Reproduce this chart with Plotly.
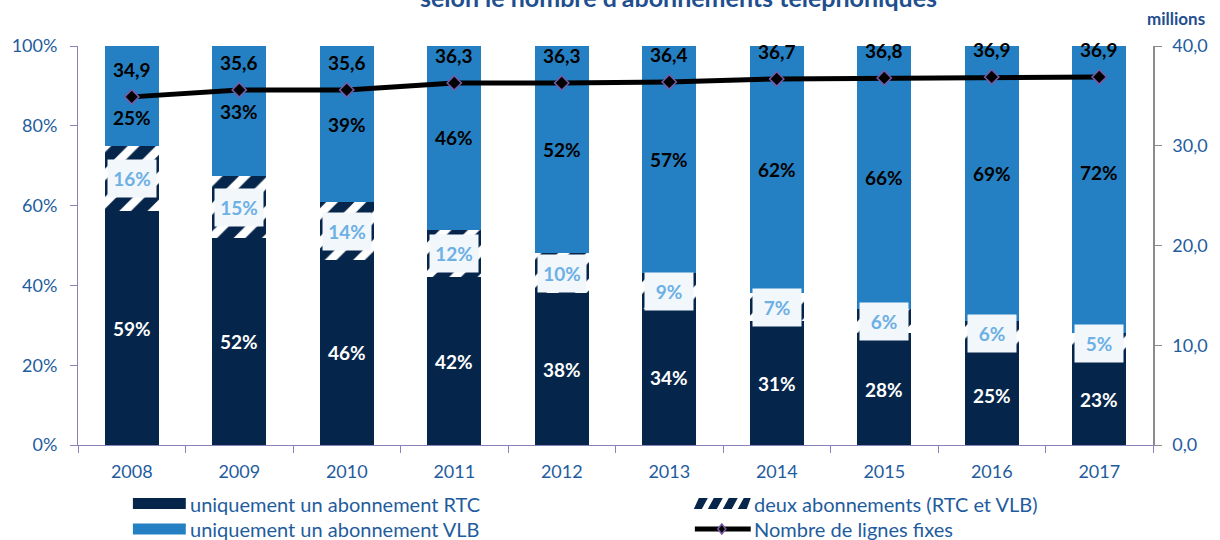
import plotly.graph_objects as go

years = ["2008", "2009", "2010", "2011", "2012", "2013", "2014", "2015", "2016", "2017"]
rtc_only = [58.6, 51.9, 46.4, 42, 38, 34, 31, 28, 25, 23]
both = [16.3, 15.4, 14.4, 12, 10, 9, 7, 6, 6, 5]
vlb_only = [25.1, 32.7, 39.2, 46, 52, 57, 62, 66, 69, 72]
lines_fixes = [34.9, 35.6, 35.6, 36.3, 36.3, 36.4, 36.7, 36.8, 36.9, 36.9]

pct_ticks = [0, 20, 40, 60, 80, 100]
mil_ticks = [0, 10, 20, 30, 40]

vlb_label_shift = [-21, 0, 0, 0, 0, 0, 0, 0, 10, 17]

NAVY = "#05254a"
BLUE = "#2580c3"
TXT = "#1f5c9e"
FONT = "Lato"

W, H = 1220, 540
L, R, T, B = 78, 1155, 46, 445


def px(x):
    return (x - L) / (R - L)


def py(y):
    return (B - y) / (B - T)


def fr(v):
    return f"{v:.1f}".replace(".", ",")


fig = go.Figure()
fig.add_trace(go.Bar(x=years, y=rtc_only, name="uniquement un abonnement RTC",
                     marker=dict(color=NAVY, line=dict(width=0))))
fig.add_trace(go.Bar(x=years, y=both, name="deux abonnements (RTC et VLB)",
                     marker=dict(color="white", line=dict(width=0),
                                 pattern=dict(shape="/", fgcolor=NAVY, bgcolor="white",
                                              fgopacity=1, size=20, solidity=0.58))))
fig.add_trace(go.Bar(x=years, y=vlb_only, name="uniquement un abonnement VLB",
                     marker=dict(color=BLUE, line=dict(width=0))))
fig.add_trace(go.Scatter(x=years, y=lines_fixes, yaxis="y2", mode="lines+markers",
                         name="Nombre de lignes fixes",
                         line=dict(color="black", width=5),
                         marker=dict(symbol="diamond", size=11, color="black",
                                     line=dict(color="#7a5aa8", width=1.5))))

LBL = 19
annotations = []
for i, yr in enumerate(years):
    r, b, v = rtc_only[i], both[i], vlb_only[i]
    annotations.append(dict(x=i, y=r / 2, xref="x", yref="y", text=f"<b>{round(r)}%</b>",
                            showarrow=False, font=dict(family=FONT, size=LBL, color="white")))
    annotations.append(dict(x=i, y=r + b / 2, xref="x", yref="y", text=f"<b>{round(b)}%</b>",
                            showarrow=False, font=dict(family=FONT, size=LBL, color="#6cb0e4"),
                            bgcolor="#f2f7fc", width=46, height=35))
    annotations.append(dict(x=i, y=r + b + v / 2, xref="x", yref="y", text=f"<b>{round(v)}%</b>",
                            showarrow=False, yshift=vlb_label_shift[i],
                            font=dict(family=FONT, size=LBL, color="black")))
    annotations.append(dict(x=i, y=lines_fixes[i], xref="x", yref="y2",
                            text="<b>" + fr(lines_fixes[i]) + "</b>",
                            showarrow=False, yshift=27,
                            font=dict(family=FONT, size=LBL, color="black")))

annotations.append(dict(x=px(680), y=py(-3), xref="paper", yref="paper", xanchor="center",
                        text="<b>selon le nombre d'abonnements téléphoniques</b>",
                        showarrow=False, yanchor="middle",
                        font=dict(family=FONT, size=25, color="#1f4f8f")))
annotations.append(dict(x=px(1178), y=py(18), xref="paper", yref="paper", xanchor="center",
                        yanchor="middle",
                        text="<b>millions</b>", showarrow=False,
                        font=dict(family=FONT, size=17, color="#1f4f8f")))

# custom legend
shapes = []
leg_font = dict(family=FONT, size=20, color=TXT)
rows = [503.5, 529]


def rect(x0, x1, yc, color):
    return dict(type="rect", xref="paper", yref="paper", x0=px(x0), x1=px(x1),
                y0=py(yc + 5.5), y1=py(yc - 5.5), fillcolor=color, line=dict(width=0))


def legend_text(x, yc, text):
    return dict(x=px(x), y=py(yc), xref="paper", yref="paper", xanchor="left",
                yanchor="middle", text=text, showarrow=False, font=leg_font)


shapes.append(rect(133, 186, rows[0], NAVY))
shapes.append(rect(133, 186, rows[1], BLUE))
annotations.append(legend_text(188, rows[0], "uniquement un abonnement RTC"))
annotations.append(legend_text(188, rows[1], "uniquement un abonnement VLB"))

# hatched swatch
for k in range(4):
    x0 = 694 + k * 15
    pts = [(x0, rows[0] + 5.5), (x0 + 9, rows[0] + 5.5), (x0 + 15, rows[0] - 5.5), (x0 + 6, rows[0] - 5.5)]
    pts = [(min(max(a, 695), 752), c) for a, c in pts]
    path = "M " + " L ".join(f"{px(a):.5f} {py(c):.5f}" for a, c in pts) + " Z"
    shapes.append(dict(type="path", xref="paper", yref="paper", path=path,
                       fillcolor=NAVY, line=dict(width=0)))
annotations.append(legend_text(753, rows[0], "deux abonnements (RTC et VLB)"))

# line swatch
shapes.append(dict(type="line", xref="paper", yref="paper", x0=px(696), x1=px(752),
                   y0=py(rows[1]), y1=py(rows[1]), line=dict(color="black", width=5)))
d = 5
cx = 723
dpts = [(cx, rows[1] - d), (cx + 4, rows[1]), (cx, rows[1] + d), (cx - 4, rows[1])]
shapes.append(dict(type="path", xref="paper", yref="paper",
                   path="M " + " L ".join(f"{px(a):.5f} {py(c):.5f}" for a, c in dpts) + " Z",
                   fillcolor="black", line=dict(color="#7a5aa8", width=1.5)))
annotations.append(legend_text(753, rows[1], "Nombre de lignes fixes"))

fig.update_layout(
    width=W, height=H,
    margin=dict(l=L, r=W - R, t=T, b=H - B),
    barmode="stack", bargap=0.5,
    plot_bgcolor="white", paper_bgcolor="white",
    showlegend=False,
    font=dict(family=FONT, size=18, color=TXT),
    xaxis=dict(type="category", categoryorder="array", categoryarray=years,
               range=[-0.5, len(years) - 0.5],
               showline=True, linecolor="#8a82b8", linewidth=1,
               ticks="outside", tickson="boundaries", ticklen=7, tickcolor="#8a82b8",
               tickangle=0, ticklabelstandoff=10,
               tickfont=dict(family=FONT, size=18, color=TXT), showgrid=False),
    yaxis=dict(range=[0, 100], tickmode="array", tickvals=pct_ticks,
               ticktext=[f"{t}%" for t in pct_ticks],
               showline=True, linecolor="#8a82b8", linewidth=1, ticks="outside",
               ticklen=7, tickcolor="#8a82b8", showgrid=False, zeroline=False,
               ticklabelstandoff=9,
               tickfont=dict(family=FONT, size=18, color=TXT)),
    yaxis2=dict(range=[0, 40], tickmode="array", tickvals=mil_ticks,
                ticktext=[fr(t) for t in mil_ticks],
                overlaying="y", side="right", showline=True, linecolor="#8c8c8c",
                linewidth=1.5, ticks="outside", ticklen=7, tickcolor="#8c8c8c",
                showgrid=False, zeroline=False, ticklabelstandoff=7,
                tickfont=dict(family=FONT, size=18, color=TXT)),
    annotations=annotations,
    shapes=shapes,
)

fig.write_html("out.html", config={"displayModeBar": False},
               post_script="document.body.style.margin='0';")
